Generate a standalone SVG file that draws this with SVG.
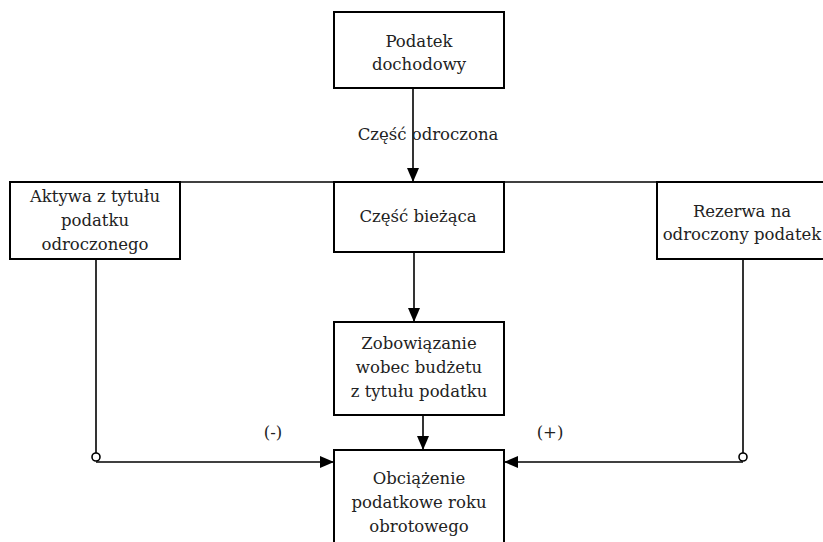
<svg xmlns="http://www.w3.org/2000/svg" width="823" height="542" viewBox="0 0 823 542">
<defs>
<style>
.box{fill:#fff;stroke:#000;stroke-width:2}
.t{font-family:'DejaVu Serif',serif;font-size:16.5px;fill:#222;text-anchor:middle}
.ln{stroke:#000;stroke-width:1.6;fill:none}
.dot{fill:#fff;stroke:#000;stroke-width:1.6}
</style>
<marker id="ah" viewBox="0 0 14 12" refX="14" refY="6" markerWidth="14" markerHeight="12" markerUnits="userSpaceOnUse" orient="auto">
<path d="M0,0 L14,6 L0,12 Z" fill="#000"/>
</marker>
</defs>
<g id="connectors">
<line class="ln" x1="180" y1="182" x2="657" y2="182"/>
<line class="ln" x1="413" y1="88" x2="413" y2="182" marker-end="url(#ah)"/>
<line class="ln" x1="414" y1="252" x2="414" y2="322" marker-end="url(#ah)"/>
<line class="ln" x1="423" y1="415" x2="423" y2="450" marker-end="url(#ah)"/>
<line class="ln" x1="96" y1="259" x2="96" y2="453"/>
<line class="ln" x1="96" y1="462" x2="334" y2="462" marker-end="url(#ah)"/>
<circle class="dot" cx="96" cy="457" r="4"/>
<line class="ln" x1="743" y1="259" x2="743" y2="453"/>
<line class="ln" x1="743" y1="462" x2="504" y2="462" marker-end="url(#ah)"/>
<circle class="dot" cx="743" cy="457" r="4"/>
<text class="t" x="428" y="140">Część odroczona</text>
<text class="t" x="273" y="438">(-)</text>
<text class="t" x="550" y="438">(+)</text>
</g>
<g id="podatek">
<rect class="box" x="334" y="12" width="170" height="76"/>
<text class="t" x="419" y="47">Podatek</text>
<text class="t" x="419" y="70">dochodowy</text>
</g>
<g id="aktywa">
<rect class="box" x="10" y="182" width="170" height="77"/>
<text class="t" x="95" y="202">Aktywa z tytułu</text>
<text class="t" x="95" y="226">podatku</text>
<text class="t" x="95" y="250">odroczonego</text>
</g>
<g id="biezaca">
<rect class="box" x="334" y="182" width="170" height="70"/>
<text class="t" x="418" y="222">Część bieżąca</text>
</g>
<g id="rezerwa">
<rect class="box" x="657" y="182" width="170" height="77"/>
<text class="t" x="742" y="217">Rezerwa na</text>
<text class="t" x="742" y="240">odroczony podatek</text>
</g>
<g id="zobowiazanie">
<rect class="box" x="334" y="322" width="170" height="93"/>
<text class="t" x="419" y="349">Zobowiązanie</text>
<text class="t" x="419" y="373">wobec budżetu</text>
<text class="t" x="419" y="397">z tytułu podatku</text>
</g>
<g id="obciazenie">
<rect class="box" x="334" y="450" width="170" height="100"/>
<text class="t" x="419" y="484">Obciążenie</text>
<text class="t" x="419" y="508">podatkowe roku</text>
<text class="t" x="419" y="532">obrotowego</text>
</g>
</svg>
